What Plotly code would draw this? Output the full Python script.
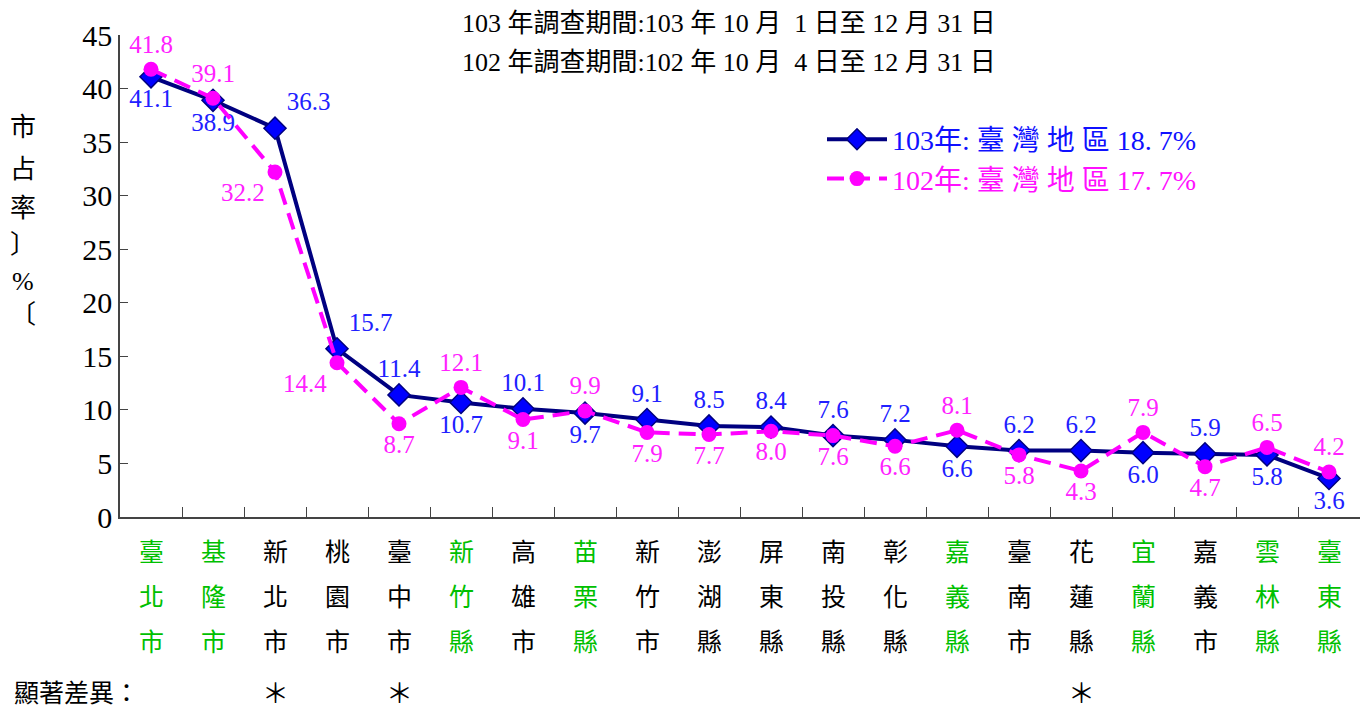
import plotly.graph_objects as go

categories = ["臺北市", "基隆市", "新北市", "桃園市", "臺中市", "新竹縣", "高雄市", "苗栗縣", "新竹市", "澎湖縣",
              "屏東縣", "南投縣", "彰化縣", "嘉義縣", "臺南市", "花蓮縣", "宜蘭縣", "嘉義市", "雲林縣", "臺東縣"]
y103 = [41.1, 38.9, 36.3, 15.7, 11.4, 10.7, 10.1, 9.7, 9.1, 8.5, 8.4, 7.6, 7.2, 6.6, 6.2, 6.2, 6.0, 5.9, 5.8, 3.6]
y102 = [41.8, 39.1, 32.2, 14.4, 8.7, 12.1, 9.1, 9.9, 7.9, 7.7, 8.0, 7.6, 6.6, 8.1, 5.8, 4.3, 7.9, 4.7, 6.5, 4.2]
green_cats = ["臺北市", "基隆市", "新竹縣", "苗栗縣", "嘉義縣", "宜蘭縣", "雲林縣", "臺東縣"]
significant = ["新北市", "臺中市", "花蓮縣"]
legend103 = "103年: 臺 灣 地 區 18. 7%"
legend102 = "102年: 臺 灣 地 區 17. 7%"
header_lines = ["103 年調查期間:103 年 10 月  1 日至 12 月 31 日",
                "102 年調查期間:102 年 10 月  4 日至 12 月 31 日"]
ytitle_chars = ["市", "占", "率", "〕", "%", "〔"]
sig_label = "顯著差異："

pos103 = ["bottom center", "bottom center", "top right", "top right", "top center", "bottom center",
          "top center", "bottom center", "top center", "top center", "top center", "top center",
          "top center", "bottom center", "top center", "top center", "bottom center", "top center",
          "bottom center", "bottom center"]
pos102 = ["top center", "top center", "bottom left", "bottom left", "bottom center", "top center",
          "bottom center", "top center", "bottom center", "bottom center", "bottom center", "bottom center",
          "bottom center", "top center", "bottom center", "bottom center", "top center", "bottom center",
          "top center", "top center"]

FONT = "Liberation Serif, 'Noto Sans CJK TC', serif"
OFF = 8  # page body margin offset
W, H = 1370 - OFF, 713 - OFF
ML, MR, MT, MB = 120 - OFF, 10, 32 - OFF, 196
PH = H - MT - MB
PW = W - ML - MR


def ypaper(py):
    return (H - MB - (py - OFF)) / PH


def xpaper(px):
    return ((px - OFF) - ML) / PW


fig = go.Figure()
fig.add_trace(go.Scatter(
    x=categories, y=y103, mode="lines+markers+text",
    name=f'<span style="color:#1010ff">{legend103}</span>',
    line=dict(color="#000080", width=4),
    marker=dict(symbol="diamond", size=17, color="#0000ff", line=dict(color="#000080", width=1.5)),
    text=[f"{v:.1f}" for v in y103], textposition=pos103,
    textfont=dict(family=FONT, size=25, color="#2020ff"),
))
fig.add_trace(go.Scatter(
    x=categories, y=y102, mode="lines+markers+text",
    name=f'<span style="color:#ff10ff">{legend102}</span>',
    line=dict(color="#ff00ff", width=4, dash="17px,9px"),
    marker=dict(symbol="circle", size=15, color="#ff00ff"),
    text=[f"{v:.1f}" for v in y102], textposition=pos102,
    textfont=dict(family=FONT, size=25, color="#ff22ff"),
))

annotations = []
# category labels (vertical, 3 rows)
row_py = [553, 598, 643]
for c in categories:
    col = "#00c000" if c in green_cats else "#000000"
    for i, ch in enumerate(c):
        annotations.append(dict(x=c, xref="x", y=ypaper(row_py[i]), yref="paper", text=ch,
                                showarrow=False, font=dict(family=FONT, size=25, color=col),
                                xanchor="center", yanchor="middle"))
# significance row
annotations.append(dict(x=xpaper(12), xref="paper", y=ypaper(695), yref="paper", text=sig_label,
                        showarrow=False, font=dict(family=FONT, size=25, color="#000000"),
                        xanchor="left", yanchor="middle"))
for c in significant:
    annotations.append(dict(x=c, xref="x", y=ypaper(695), yref="paper", text="＊",
                            showarrow=False, font=dict(family=FONT, size=27, color="#000000"),
                            xanchor="center", yanchor="middle"))
# y title
for ch, py in zip(ytitle_chars, [125, 167, 207, 243, 280, 313]):
    annotations.append(dict(x=xpaper(23), xref="paper", y=ypaper(py), yref="paper", text=ch,
                            showarrow=False, font=dict(family=FONT, size=26, color="#000000"),
                            xanchor="center", yanchor="middle"))
# header
for line, py in zip(header_lines, [20, 60]):
    annotations.append(dict(x=xpaper(729), xref="paper", y=ypaper(py), yref="paper", text=line,
                            showarrow=False, font=dict(family=FONT, size=26, color="#000000"),
                            xanchor="center", yanchor="middle"))

fig.update_layout(
    width=W, height=H,
    margin=dict(l=ML, r=MR, t=MT, b=MB),
    paper_bgcolor="white", plot_bgcolor="white",
    font=dict(family=FONT, color="#000000"),
    showlegend=True,
    legend=dict(x=xpaper(822), y=ypaper(112), xanchor="left", yanchor="top",
                font=dict(family=FONT, size=28, color="#0000ff"),
                bgcolor="rgba(0,0,0,0)", tracegroupgap=8, itemwidth=60),
    annotations=annotations,
    xaxis=dict(type="category", range=[-0.5, 19.5], showticklabels=False, showgrid=False,
               showline=True, linecolor="#444444", linewidth=1.5,
               ticks="inside", ticklen=10, tickcolor="#444444", tickson="boundaries", zeroline=False),
    yaxis=dict(range=[0, 45], tickvals=[0, 5, 10, 15, 20, 25, 30, 35, 40, 45], showgrid=False,
               showline=True, linecolor="#444444", linewidth=1.5,
               ticks="inside", ticklen=8, tickcolor="#444444", zeroline=False,
               tickfont=dict(family=FONT, size=30, color="#000000")),
)

fig.write_html("out.html")
